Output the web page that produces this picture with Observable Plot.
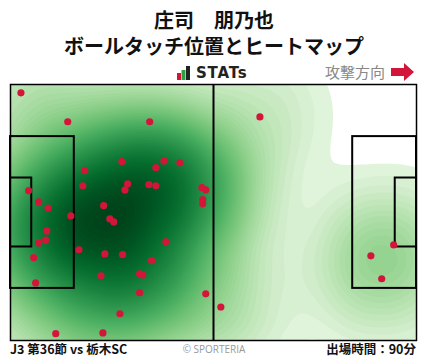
<!DOCTYPE html>
<html><head><meta charset="utf-8">
<script src="https://cdn.jsdelivr.net/npm/d3@7"></script>
<script src="https://cdn.jsdelivr.net/npm/@observablehq/plot@0.6"></script>
<style>
body{margin:0;background:#fff;font-family:"Noto Sans CJK JP","Noto Sans",sans-serif;}
#wrap{position:relative;width:428px;height:359px;overflow:hidden}
.t{position:absolute;white-space:nowrap}
#chart{position:absolute;left:0;top:0}
</style></head><body>
<div id="wrap">
  <div id="chart"></div>
  <div class="t" id="title" style="left:0;width:428px;text-align:center;top:7px;font-size:20px;font-weight:bold;line-height:26px;color:#111;white-space:pre"></div>
  <div class="t" style="left:177px;top:64px;height:18px;display:flex;align-items:center">
    <svg width="14" height="14" viewBox="0 0 14 14"><rect x="0" y="7" width="4" height="7" fill="#d4153a"/><rect x="4.5" y="4" width="4" height="10" fill="#2e9e44"/><rect x="9" y="0" width="4" height="14" fill="#222"/></svg>
    <span id="brand" style="margin-left:5px;font-family:'DejaVu Sans',sans-serif;font-weight:bold;font-size:15px;color:#222;letter-spacing:0.8px"></span>
  </div>
  <div class="t" id="dir" style="left:325px;top:61px;font-size:15px;color:#888;line-height:22px"></div>
  <svg class="t" style="left:391px;top:63px" width="24" height="18" viewBox="0 0 24 18"><polygon points="0,5 13,5 13,0 23,9 13,18 13,13 0,13" fill="#d4153a"/></svg>
  <div class="t" id="f1" style="left:10px;top:340px;font-size:12.5px;font-weight:bold;color:#111;line-height:18px"></div>
  <div class="t" id="f2" style="left:0;width:428px;text-align:center;top:341px;font-size:10px;color:#999;line-height:16px;font-family:'Open Sans',sans-serif"></div>
  <div class="t" id="f3" style="right:12px;top:340px;font-size:12.5px;font-weight:bold;color:#111;line-height:18px"></div>
</div>
<script>
const titleName = "庄司　朋乃也";
const titleSub = "ボールタッチ位置とヒートマップ";
const brandText = "STATs";
const directionText = "攻撃方向";
const matchText = "J3 第36節 vs 栃木SC";
const creditText = "© SPORTERIA";
const minutesText = "出場時間：90分";

// ball touch positions, metres (x from own goal line, y from top touchline)
const touchX = [2.7,14.8,36.0,28.8,39.7,43.8,37.6,19.2,18.7,30.3,29.6,35.8,37.6,49.5,50.5,49.7,49.7,4.7,7.3,9.7,24.1,15.6,25.7,26.7,9.4,9.1,7.3,40.2,17.7,24.4,29.0,6.0,36.5,33.4,34.2,23.4,6.5,33.4,50.5,28.3,11.7,23.9,54.4,64.5,93.2,96.0,99.1];
const touchY = [2.2,9.9,9.9,20.5,20.3,20.8,22.1,22.9,26.9,26.4,28.0,26.6,26.9,27.4,28.0,30.6,31.7,28.2,31.2,32.8,32.2,34.9,35.7,36.5,38.9,41.3,42.1,41.8,43.9,45.0,45.2,46.0,46.8,50.3,50.6,50.8,52.7,55.3,55.6,60.9,66.2,66.0,59.1,8.6,45.5,51.6,42.6];

// pitch markings (metres)
const pitchLength = 105, pitchWidth = 68;
const boxX1 = [0, 88.5, 0, 99.5];
const boxX2 = [16.5, 105, 5.5, 105];
const boxY1 = [13.84, 13.84, 24.84, 24.84];
const boxY2 = [54.16, 54.16, 43.16, 43.16];

document.getElementById("title").textContent = titleName + "\n" + titleSub;
document.getElementById("brand").textContent = brandText;
document.getElementById("dir").textContent = directionText;
document.getElementById("f1").textContent = matchText;
document.getElementById("f2").textContent = creditText;
document.getElementById("f3").textContent = minutesText;

const touches = touchX.map((x, i) => ({x, y: touchY[i]}));
const boxes = boxX1.map((x1, i) => ({x1, x2: boxX2[i], y1: boxY1[i], y2: boxY2[i]}));

const chart = Plot.plot({
  width: 428, height: 359,
  marginLeft: 10, marginRight: 12, marginTop: 84, marginBottom: 19,
  x: {domain: [0, pitchLength], axis: null},
  y: {domain: [0, pitchWidth], reverse: true, axis: null},
  color: {type: "pow", exponent: 0.6, scheme: "greens", range: [0.06, 1]},
  style: {background: "transparent"},
  marks: [
    Plot.density(touches, {x: "x", y: "y", fill: "density", bandwidth: 38, thresholds: 64, clip: true}),
    Plot.rect(boxes, {x1: "x1", x2: "x2", y1: "y1", y2: "y2", fill: "none", stroke: "#000", strokeWidth: 2}),
    Plot.ruleX([pitchLength / 2], {y1: 0, y2: pitchWidth, stroke: "#000", strokeWidth: 2}),
    Plot.frame({stroke: "#000", strokeWidth: 1.5}),
    Plot.dot(touches, {x: "x", y: "y", r: 3.6, fill: "#d4153a", stroke: "none"})
  ]
});
document.getElementById("chart").appendChild(chart);
</script>
</body></html>
